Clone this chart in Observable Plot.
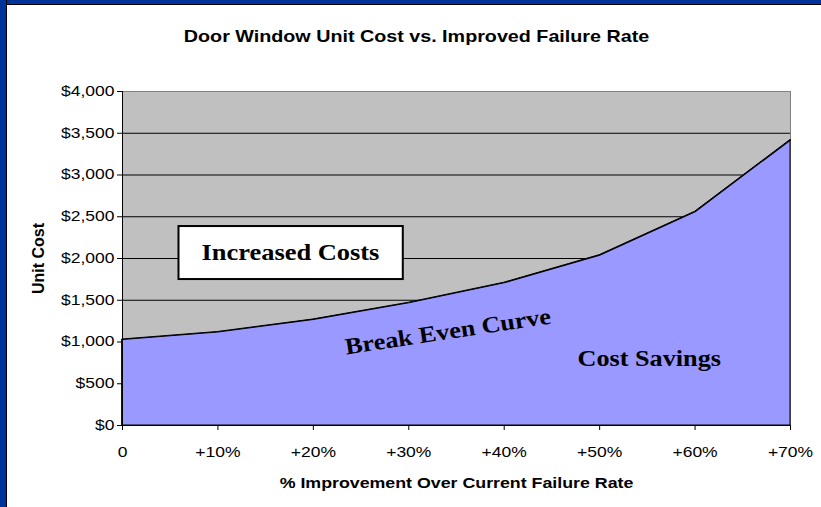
<!DOCTYPE html>
<html>
<head>
<meta charset="utf-8">
<script src="https://cdn.jsdelivr.net/npm/d3@7"></script>
<script src="https://cdn.jsdelivr.net/npm/@observablehq/plot@0.6"></script>
<style>
  html, body { margin: 0; padding: 0; background: #fff; }
  #wrap { position: relative; width: 821px; height: 507px; overflow: hidden; background: #fff; }
  #bl { position: absolute; left: 0; top: 0; width: 6px; height: 507px; background: #003399; border-right: 1px solid #000; }
  #bt { position: absolute; left: 0; top: 0; width: 821px; height: 4px; background: #003399; border-bottom: 1px solid #000; }
  #chart { position: absolute; left: 0; top: 0; }
</style>
</head>
<body>
<div id="wrap"><div id="chart"></div><div id="bt"></div><div id="bl"></div></div>
<script>
const title = "Door Window Unit Cost vs. Improved Failure Rate";
const xLabel = "% Improvement Over Current Failure Rate";
const yLabel = "Unit Cost";
const improvement = [0, 10, 20, 30, 40, 50, 60, 70];
const unitCost = [1030, 1120, 1270, 1470, 1710, 2040, 2560, 3420];
const yTicks = [0, 500, 1000, 1500, 2000, 2500, 3000, 3500, 4000];
const gridValues = [500, 1000, 1500, 2000, 2500, 3000, 3500];
const annoText = ["Increased Costs", "Break Even Curve", "Cost Savings"];
const annoX = [17.6, 34.1, 55.2];
const annoY = [2065, 1124, 800];
const annoRotate = [0, -8.6, 0];

const data = improvement.map((x, i) => ({x, y: unitCost[i]}));
const annos = annoText.map((t, i) => ({t, x: annoX[i], y: annoY[i], r: annoRotate[i]}));

const sans = "Arial, 'Liberation Sans', sans-serif";
const serif = "'Times New Roman', 'Liberation Serif', serif";

const plot = Plot.plot({
  width: 821,
  height: 507,
  marginLeft: 122,
  marginRight: 31,
  marginTop: 91,
  marginBottom: 82,
  style: {background: "transparent", fontFamily: sans, fontSize: "14px", color: "#000", overflow: "visible"},
  x: {domain: [0, 70], ticks: improvement},
  y: {domain: [0, 4000], ticks: yTicks},
  marks: [
    Plot.frame({fill: "#C0C0C0", stroke: "#808080"}),
    Plot.ruleY(gridValues, {stroke: "#000", strokeWidth: 1}),
    Plot.areaY(data, {x: "x", y: "y", fill: "#9999FF", stroke: "#000", strokeWidth: 1}),
    Plot.lineY(data, {x: "x", y: "y", stroke: "#000", strokeWidth: 1.2}),
    Plot.ruleY([0], {stroke: "#000"}),
    Plot.ruleX([0], {stroke: "#000"}),
    Plot.axisY({ticks: yTicks, tickSize: 5, tickPadding: 3, label: null,
      tickFormat: d => "$" + d3.format(",")(d), fontSize: 14}),
    Plot.axisX({ticks: improvement, tickSize: 5, tickPadding: 17, label: null,
      tickFormat: d => d === 0 ? "0" : "+" + d + "%", fontSize: 14}),
    Plot.text([title], {frameAnchor: "top", dx: -40, dy: -55, lineAnchor: "middle",
      fontWeight: "bold", fontSize: 17, fill: "#000"}),
    Plot.text([xLabel], {frameAnchor: "bottom", dy: 58, lineAnchor: "middle",
      fontWeight: "bold", fontSize: 14, fill: "#000"}),
    Plot.text([yLabel], {frameAnchor: "left", dx: -84, rotate: -90, lineAnchor: "middle",
      textAnchor: "middle", fontWeight: "bold", fontSize: 16, fill: "#000"}),
    Plot.text(annos, {x: "x", y: "y", text: "t", rotate: "r", lineAnchor: "middle",
      fontFamily: serif, fontWeight: "bold", fontSize: 23, fill: "#000"})
  ]
});
document.getElementById("chart").appendChild(plot);

// emulate the horizontally stretched text of the original image
function stretch(el, s) {
  const ax = +(el.getAttribute("x") || 0);
  const tr = el.getAttribute("transform") || "";
  el.setAttribute("transform", `${tr} translate(${ax},0) scale(${s},1) translate(${-ax},0)`);
}
d3.select(plot).selectAll("text").each(function() {
  const t = this.textContent;
  if (t === yLabel) return;
  if (t === title) stretch(this, 1.16);
  else if (t === xLabel) stretch(this, 1.27);
  else if (annoText.includes(t)) stretch(this, t === annoText[0] ? 1.15 : 1.14);
  else stretch(this, 1.25);
});

// white box behind "Increased Costs"
const svgRect = plot.getBoundingClientRect();
d3.select(plot).selectAll("text").each(function() {
  if (this.textContent === annoText[0]) {
    const r = this.getBoundingClientRect();
    const cx = r.left + r.width / 2 - svgRect.left;
    const cy = r.top + r.height / 2 - svgRect.top;
    const w = r.width + 46, h = 53;
    const g = this.parentNode;
    const rect = document.createElementNS("http://www.w3.org/2000/svg", "rect");
    rect.setAttribute("x", cx - w / 2);
    rect.setAttribute("y", cy - h / 2);
    rect.setAttribute("width", w);
    rect.setAttribute("height", h);
    rect.setAttribute("fill", "#fff");
    rect.setAttribute("stroke", "#000");
    rect.setAttribute("stroke-width", 2);
    g.parentNode.insertBefore(rect, g);
  }
});
</script>
</body>
</html>
